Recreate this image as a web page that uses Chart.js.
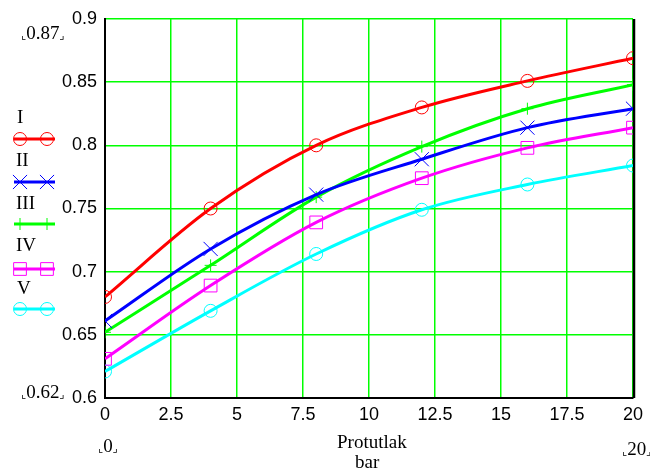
<!DOCTYPE html>
<html>
<head>
<meta charset="utf-8">
<script src="https://cdn.jsdelivr.net/npm/chart.js@4.4.0/dist/chart.umd.min.js"></script>
<style>
body{margin:0;background:#fff}
#wrap{position:relative;width:650px;height:471px}
#c{position:absolute;left:0;top:0}
.t{position:absolute;font-family:"Liberation Serif",serif;font-size:19px;color:#000;line-height:20px;white-space:nowrap}
.b{font-family:"DejaVu Sans",sans-serif;font-size:11px}
</style>
</head>
<body>
<div id="wrap">
<canvas id="c" width="650" height="471"></canvas>
<div class="t" style="left:21px;top:23px"><span class="b">⌞</span>0.87<span class="b">⌟</span></div>
<div class="t" style="left:21px;top:382px"><span class="b">⌞</span>0.62<span class="b">⌟</span></div>
<div class="t" style="left:98px;top:436px"><span class="b">⌞</span>0<span class="b">⌟</span></div>
<div class="t" style="left:622px;top:439px"><span class="b">⌞</span>20<span class="b">⌟</span></div>
<div class="t" style="left:337px;top:432px">Protutlak</div>
<div class="t" style="left:355px;top:452px">bar</div>
<div class="t" style="left:17px;top:107px">I</div>
<div class="t" style="left:16px;top:150px">II</div>
<div class="t" style="left:16px;top:193px">III</div>
<div class="t" style="left:16px;top:235px">IV</div>
<div class="t" style="left:17px;top:278px">V</div>
</div>
<script>
// pritisak (bar) i vrijednosti za pet krivulja
const pressure = [0, 4, 8, 12, 16, 20];
const seriesI   = [0.680, 0.750, 0.800, 0.830, 0.851, 0.869];
const seriesII  = [0.661, 0.718, 0.761, 0.789, 0.814, 0.829];
const seriesIII = [0.652, 0.705, 0.759, 0.799, 0.829, 0.848];
const seriesIV  = [0.631, 0.689, 0.739, 0.774, 0.798, 0.814];
const seriesV   = [0.621, 0.669, 0.714, 0.749, 0.769, 0.784];
const xTicks = [0, 2.5, 5, 7.5, 10, 12.5, 15, 17.5, 20];
const yTicks = [0.6, 0.65, 0.7, 0.75, 0.8, 0.85, 0.9];

function pts(vals) {
  return pressure.map((p, i) => ({x: p, y: vals[i]}));
}
function ds(label, vals, color, style, r) {
  return {
    label: label, data: pts(vals),
    borderColor: color, backgroundColor: color, borderWidth: 3,
    pointStyle: style, pointRadius: r, pointHoverRadius: r,
    pointBorderColor: color, pointBackgroundColor: 'rgba(0,0,0,0)', pointBorderWidth: 1,
    cubicInterpolationMode: 'monotone'
  };
}

function marker(ctx, style, x, y, r) {
  ctx.beginPath();
  if (style === 'circle') {
    ctx.arc(x, y, r, 0, Math.PI * 2);
  } else if (style === 'rect') {
    const s = r * Math.SQRT1_2;
    ctx.rect(x - s, y - s, 2 * s, 2 * s);
  } else if (style === 'cross') {
    ctx.moveTo(x, y - r); ctx.lineTo(x, y + r);
    ctx.moveTo(x - r, y); ctx.lineTo(x + r, y);
  } else {
    const o = r * Math.SQRT1_2;
    ctx.moveTo(x - o, y - o); ctx.lineTo(x + o, y + o);
    ctx.moveTo(x - o, y + o); ctx.lineTo(x + o, y - o);
  }
  ctx.stroke();
}

const legendY = [139, 182, 224, 269, 309];
const sideLegend = {
  id: 'sideLegend',
  beforeDatasetsDraw(chart) {
    const a = chart.chartArea, ctx = chart.ctx;
    ctx.save();
    ctx.strokeStyle = '#000';
    ctx.lineWidth = 2.5;
    ctx.beginPath();
    ctx.moveTo(a.right + 1, a.top);
    ctx.lineTo(a.right + 1, a.bottom);
    ctx.stroke();
    ctx.restore();
  },
  afterDraw(chart) {
    const ctx = chart.ctx;
    chart.data.datasets.forEach((d, i) => {
      const y = legendY[i];
      ctx.save();
      ctx.strokeStyle = d.borderColor;
      ctx.lineWidth = 3;
      ctx.beginPath();
      ctx.moveTo(14, y); ctx.lineTo(55, y);
      ctx.stroke();
      ctx.lineWidth = 1;
      marker(ctx, d.pointStyle, 20, y, d.pointRadius);
      marker(ctx, d.pointStyle, 47, y, d.pointRadius);
      ctx.restore();
    });
  }
};

const tickFont = {family: '"Liberation Sans", Arial, sans-serif', size: 18};

new Chart(document.getElementById('c'), {
  type: 'line',
  data: {
    datasets: [
      ds('I', seriesI, '#ff0000', 'circle', 6.5),
      ds('II', seriesII, '#0000ff', 'crossRot', 10),
      ds('III', seriesIII, '#00ff00', 'cross', 6),
      ds('IV', seriesIV, '#ff00ff', 'rect', 9),
      ds('V', seriesV, '#00ffff', 'circle', 6.5)
    ]
  },
  options: {
    responsive: false,
    animation: false,
    layout: {padding: {left: 0, right: 17, top: 19, bottom: 0}},
    plugins: {legend: {display: false}, tooltip: {enabled: false}},
    scales: {
      x: {
        type: 'linear', min: 0, max: 20,
        afterBuildTicks: s => { s.ticks = xTicks.map(v => ({value: v})); },
        afterFit: s => { s.height = 73; },
        grid: {color: '#00ff00', lineWidth: 1.5, drawTicks: false},
        border: {color: '#000', width: 2},
        ticks: {font: tickFont, color: '#000', padding: 6, maxRotation: 0,
          callback: v => String(v)}
      },
      y: {
        min: 0.6, max: 0.9,
        afterBuildTicks: s => { s.ticks = yTicks.map(v => ({value: v})); },
        afterFit: s => { s.width = 105; },
        grid: {color: '#00ff00', lineWidth: 1.5, drawTicks: false},
        border: {color: '#000', width: 2},
        ticks: {font: tickFont, color: '#000', padding: 8,
          callback: v => String(+v.toFixed(2))}
      }
    }
  },
  plugins: [sideLegend]
});
</script>
</body>
</html>
